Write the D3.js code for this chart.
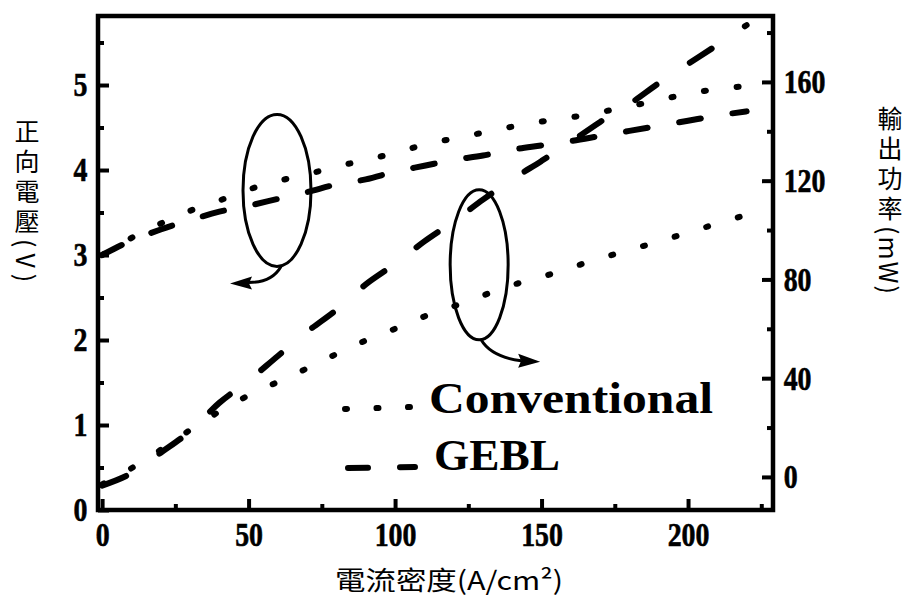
<!DOCTYPE html>
<html><head><meta charset="utf-8">
<script src="https://cdn.jsdelivr.net/npm/d3@7"></script>
<style>body{margin:0;background:#fff} svg{display:block}</style>
</head><body>
<svg id="chart" width="908" height="601"></svg>
<script>
// ---- data ----
const currentDensity = [0,10,20,30,40,50,60,70,80,90,100,110,120,130,140,150,160,170,180,190,200,210,220];
const convVoltage = [3.0,3.2,3.37,3.52,3.64,3.77,3.87,3.95,4.04,4.12,4.2,4.3,4.37,4.44,4.51,4.57,4.62,4.68,4.75,4.82,4.9,4.95,4.99];
const geblVoltage = [3.0,3.17,3.3,3.41,3.51,3.58,3.66,3.74,3.83,3.89,3.98,4.05,4.12,4.17,4.24,4.29,4.34,4.4,4.46,4.52,4.58,4.64,4.69];
const convPower   = [-3,3.5,11,19,26.5,33,38.5,44,49.8,55.3,60,65,69.1,73.5,77.7,81,84.8,88.5,92,95.3,99,102.6,106.2];
const geblPower   = [-3.5,1.5,9.8,18.5,30,39,49,58.8,67.7,78,86.3,95.4,103.5,112.3,120.5,128,135.7,143.8,151,159.5,167.3,175,183];
const xTicksMajor = [0,50,100,150,200];
const xTicksMinor = [25,75,125,175,225];
const vTicksMajor = [0,1,2,3,4,5];
const vTicksMinor = [0.5,1.5,2.5,3.5,4.5,5.5];
const pTicksMajor = [0,40,80,120,160];
const pTicksMinor = [20,60,100,140,180];
const legendLabels = ["Conventional","GEBL"];
const xTitle = "電流密度(A/cm²)";
const yLeftTitle = ["正向電壓", "(V)"];
const yRightTitle = ["輸出功率", "(mW)"];

// ---- layout ----
const L = 98, R = 773, T = 16, B = 510;
const svg = d3.select("#chart");
const x = d3.scaleLinear().domain([-1.4, 229.0]).range([L, R]);
const yV = d3.scaleLinear().domain([0, 5.812]).range([B, T]);
const yP = d3.scaleLinear().domain([-13.4, 186.7]).range([B, T]);

const serif = "'Liberation Serif','Times New Roman',serif";
const cjk = "'Noto Sans CJK TC','Noto Sans CJK SC',sans-serif";
const SX = 0.82;

function styleAxis(g) {
  g.select(".domain").remove();
  g.selectAll(".tick line").attr("stroke", "#000").attr("stroke-width", 4);
  g.selectAll(".tick text")
    .attr("font-family", serif).attr("font-weight", "bold").attr("font-size", 34)
    .attr("fill", "#000").attr("stroke", "#000").attr("stroke-width", 0.6)
    .attr("transform", `scale(${SX},1)`);
}

// bottom axis
const gx = svg.append("g").attr("transform", `translate(0,${B})`);
gx.call(d3.axisBottom(x).tickValues(xTicksMajor).tickSizeInner(-11).tickSizeOuter(0).tickPadding(12).tickFormat(d3.format("d")));
styleAxis(gx);
gx.selectAll(".tick text").attr("x", 0);
const gx2 = svg.append("g").attr("transform", `translate(0,${B})`);
gx2.call(d3.axisBottom(x).tickValues(xTicksMinor).tickSizeInner(-6).tickSizeOuter(0).tickFormat(""));
styleAxis(gx2);

// left axis
const gl = svg.append("g").attr("transform", `translate(${L},0)`);
gl.call(d3.axisLeft(yV).tickValues(vTicksMajor).tickSizeInner(-11).tickSizeOuter(0).tickPadding(13).tickFormat(d3.format("d")));
styleAxis(gl);
const gl2 = svg.append("g").attr("transform", `translate(${L},0)`);
gl2.call(d3.axisLeft(yV).tickValues(vTicksMinor).tickSizeInner(-6).tickSizeOuter(0).tickFormat(""));
styleAxis(gl2);

// right axis
const gr = svg.append("g").attr("transform", `translate(${R},0)`);
gr.call(d3.axisRight(yP).tickValues(pTicksMajor).tickSizeInner(-11).tickSizeOuter(0).tickPadding(13).tickFormat(d3.format("d")));
styleAxis(gr);
const gr2 = svg.append("g").attr("transform", `translate(${R},0)`);
gr2.call(d3.axisRight(yP).tickValues(pTicksMinor).tickSizeInner(-6).tickSizeOuter(0).tickFormat(""));
styleAxis(gr2);

// frame
svg.append("rect").attr("x", L).attr("y", T).attr("width", R - L).attr("height", B - T)
  .attr("fill", "none").attr("stroke", "#000").attr("stroke-width", 4.5);

// curves
const dotDash = "2,31";
function drawCurve(vals, yScale, dash, w) {
  const line = d3.line().x((d, i) => x(currentDensity[i])).y(d => yScale(d)).curve(d3.curveMonotoneX);
  svg.append("path").datum(vals).attr("d", line)
    .attr("fill", "none").attr("stroke", "#000").attr("stroke-width", w)
    .attr("stroke-linecap", "round").attr("stroke-dasharray", dash);
}
drawCurve(convVoltage, yV, dotDash, 6);
drawCurve(geblVoltage, yV, "22,32", 6);
drawCurve(convPower, yP, dotDash, 6);
drawCurve(geblPower, yP, "26,40", 6);

// ellipses with arrows (annotations)
function ellipseArrow(cx, cy, rx, ry, curve, head) {
  svg.append("ellipse").attr("cx", cx).attr("cy", cy).attr("rx", rx).attr("ry", ry)
    .attr("fill", "none").attr("stroke", "#000").attr("stroke-width", 3);
  svg.append("path").attr("d", curve).attr("fill", "none").attr("stroke", "#000").attr("stroke-width", 3);
  svg.append("path").attr("d", head).attr("fill", "#000");
}
{
  const cx = x(59.7), cy = yV(3.76);
  ellipseArrow(cx, cy, 34, 76,
    `M${cx+4},${cy+76} Q${cx-5},${cy+92} ${cx-28},${cy+92}`,
    `M${cx-47},${cy+93} L${cx-25},${cy+86} L${cx-28},${cy+93} L${cx-25},${cy+99} Z`);
}
{
  const cx = x(128.7), cy = yP(85.9);
  ellipseArrow(cx, cy, 29, 75,
    `M${cx+2},${cy+75} Q${cx+12},${cy+92} ${cx+42},${cy+96}`,
    `M${cx+61},${cy+97} L${cx+39},${cy+89} L${cx+42},${cy+96} L${cx+39},${cy+103} Z`);
}

// legend
const lg = svg.append("g");
lg.append("line").attr("x1", 345).attr("x2", 412).attr("y1", 409).attr("y2", 407)
  .attr("stroke", "#000").attr("stroke-width", 6).attr("stroke-linecap", "round").attr("stroke-dasharray", "2,29.5");
lg.append("line").attr("x1", 348).attr("x2", 415).attr("y1", 468).attr("y2", 467)
  .attr("stroke", "#000").attr("stroke-width", 6).attr("stroke-linecap", "round").attr("stroke-dasharray", "20,32");
lg.append("text").attr("x", 429).attr("y", 413).text(legendLabels[0])
  .attr("font-family", serif).attr("font-weight", "bold").attr("font-size", 44)
  .attr("textLength", 284).attr("lengthAdjust", "spacingAndGlyphs");
lg.append("text").attr("x", 434).attr("y", 470).text(legendLabels[1])
  .attr("font-family", serif).attr("font-weight", "bold").attr("font-size", 44)
  .attr("textLength", 126).attr("lengthAdjust", "spacingAndGlyphs");

// axis titles
svg.append("text").attr("x", 335).attr("y", 590).text(xTitle)
  .attr("font-family", cjk).attr("font-size", 26).attr("fill", "#000")
  .attr("textLength", 228).attr("lengthAdjust", "spacingAndGlyphs");

function verticalTitle(xPos, yPos, parts, latinSpacing) {
  const t = svg.append("text").attr("x", xPos).attr("y", yPos)
    .attr("font-family", cjk).attr("font-size", 25).attr("fill", "#000")
    .style("writing-mode", "vertical-rl").style("text-orientation", "mixed");
  t.append("tspan").attr("letter-spacing", 5).text(parts[0]);
  t.append("tspan").attr("letter-spacing", latinSpacing).text(parts[1]);
}
verticalTitle(27, 119, yLeftTitle, 6);
verticalTitle(890, 106, yRightTitle, 2);
</script>
</body></html>
